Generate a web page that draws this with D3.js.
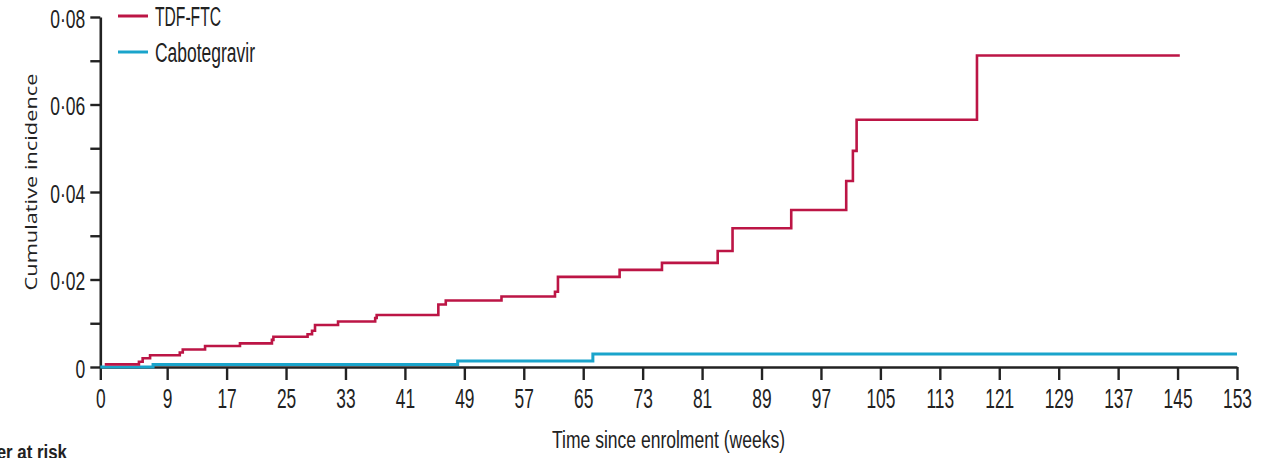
<!DOCTYPE html>
<html>
<head>
<meta charset="utf-8">
<script src="https://cdn.jsdelivr.net/npm/d3@7"></script>
<style>
  html, body { margin: 0; padding: 0; background: #fff; }
  svg { display: block; }
</style>
</head>
<body>
<svg id="chart" width="1268" height="458"></svg>
<script>
// Cumulative HIV incidence by arm (Kaplan–Meier style step curves)
const tdfWeeks = [0.6, 5.2, 5.7, 6.7, 10.7, 11.1, 14.1, 18.8, 23.1, 23.3, 27.9, 28.5, 28.9, 32.0, 37.0, 37.2, 45.5, 46.5, 54.0, 61.2, 61.6, 69.9, 75.6, 83.1, 85.1, 93.0, 100.4, 101.3, 101.8, 118.0, 145.3];
const tdfIncidence = [0.0006, 0.0012, 0.0020, 0.0027, 0.0033, 0.0040, 0.0048, 0.0054, 0.0062, 0.0069, 0.0075, 0.0083, 0.0096, 0.0104, 0.0112, 0.0119, 0.0143, 0.0152, 0.0161, 0.0172, 0.0206, 0.0222, 0.0238, 0.0265, 0.0317, 0.0359, 0.0425, 0.0494, 0.0565, 0.0712, 0.0712];

const cabWeeks = [0, 7.1, 48.1, 66.3, 153];
const cabIncidence = [0, 0.0006, 0.0014, 0.0030, 0.0030];

const xTickValues = [0, 9, 17, 25, 33, 41, 49, 57, 65, 73, 81, 89, 97, 105, 113, 121, 129, 137, 145, 153];
const yTickValues = [0, 0.01, 0.02, 0.03, 0.04, 0.05, 0.06, 0.07, 0.08];
const yTickLabels = ["0", "", "0·02", "", "0·04", "", "0·06", "", "0·08"];

const seriesNames = ["TDF-FTC", "Cabotegravir"];
const seriesColors = ["#bc1545", "#1aa4cb"];

const svg = d3.select("#chart");
const ink = "#222";

const x = d3.scaleLinear().domain([0, 153]).range([100.3, 1237]);
const y = d3.scaleLinear().domain([0, 0.08]).range([367, 17]);

// X axis
const xAxis = svg.append("g")
  .attr("transform", `translate(0,${y(0)})`)
  .call(d3.axisBottom(x).tickValues(xTickValues).tickSize(13).tickSizeOuter(0));
xAxis.select(".domain").attr("stroke", ink).attr("stroke-width", 2.6);
xAxis.selectAll(".tick line").attr("stroke", ink).attr("stroke-width", 2.4);
const xsx = 0.62;
xAxis.selectAll(".tick text")
  .attr("fill", ink)
  .attr("font-family", "'Liberation Sans', Arial, sans-serif")
  .attr("font-size", 28)
  .attr("dy", null)
  .attr("y", 41)
  .attr("x", 0)
  .attr("transform", `scale(${xsx},1)`);

// Y axis
const yAxis = svg.append("g")
  .attr("transform", `translate(${x(0)},0)`)
  .call(d3.axisLeft(y).tickValues(yTickValues).tickSize(10).tickSizeOuter(0)
    .tickFormat((d, i) => yTickLabels[i]));
yAxis.select(".domain").attr("stroke", ink).attr("stroke-width", 2.6);
yAxis.selectAll(".tick line").attr("stroke", ink).attr("stroke-width", 2.4);
const ysx = 0.7;
yAxis.selectAll(".tick text")
  .attr("fill", ink)
  .attr("font-family", "'Liberation Sans', Arial, sans-serif")
  .attr("font-size", 25)
  .attr("dy", null)
  .attr("y", 10)
  .attr("x", -15 / ysx)
  .attr("transform", `scale(${ysx},1)`);

// Step curves
const stepLine = d3.line()
  .x(d => x(d[0]))
  .y(d => y(d[1]))
  .curve(d3.curveStepAfter);

svg.append("path")
  .datum(d3.zip(cabWeeks, cabIncidence))
  .attr("fill", "none")
  .attr("stroke", seriesColors[1])
  .attr("stroke-width", 3)
  .attr("d", stepLine);

svg.append("path")
  .datum(d3.zip(tdfWeeks, tdfIncidence))
  .attr("fill", "none")
  .attr("stroke", seriesColors[0])
  .attr("stroke-width", 2.6)
  .attr("d", stepLine);

// Legend
const legendRows = [
  { name: seriesNames[0], color: seriesColors[0], ly: 16, base: 26, len: 66 },
  { name: seriesNames[1], color: seriesColors[1], ly: 52, base: 62, len: 100 }
];
const legend = svg.append("g");
legendRows.forEach(r => {
  legend.append("line")
    .attr("x1", 118).attr("x2", 148)
    .attr("y1", r.ly).attr("y2", r.ly)
    .attr("stroke", r.color).attr("stroke-width", 3);
  legend.append("text")
    .attr("x", 155).attr("y", r.base)
    .attr("fill", ink)
    .attr("font-family", "'Liberation Sans', Arial, sans-serif")
    .attr("font-size", 27)
    .attr("textLength", r.len)
    .attr("lengthAdjust", "spacingAndGlyphs")
    .text(r.name);
});

// Axis titles
svg.append("text")
  .attr("x", 552).attr("y", 448)
  .attr("fill", ink)
  .attr("font-family", "'Liberation Sans', Arial, sans-serif")
  .attr("font-size", 23)
  .attr("textLength", 233)
  .attr("lengthAdjust", "spacingAndGlyphs")
  .text("Time since enrolment (weeks)");

svg.append("text")
  .attr("transform", "translate(37,182) rotate(-90)")
  .attr("text-anchor", "middle")
  .attr("fill", ink)
  .attr("font-family", "'Open Sans', sans-serif")
  .attr("font-size", 17)
  .attr("textLength", 217)
  .attr("lengthAdjust", "spacingAndGlyphs")
  .text("Cumulative incidence");

// Risk table heading (runs off the bottom edge)
svg.append("text")
  .attr("x", 67).attr("y", 459)
  .attr("text-anchor", "end")
  .attr("fill", ink)
  .attr("font-family", "'Liberation Sans', Arial, sans-serif")
  .attr("font-weight", "bold")
  .attr("font-size", 20)
  .attr("textLength", 118)
  .attr("lengthAdjust", "spacingAndGlyphs")
  .text("Number at risk");
</script>
</body>
</html>
